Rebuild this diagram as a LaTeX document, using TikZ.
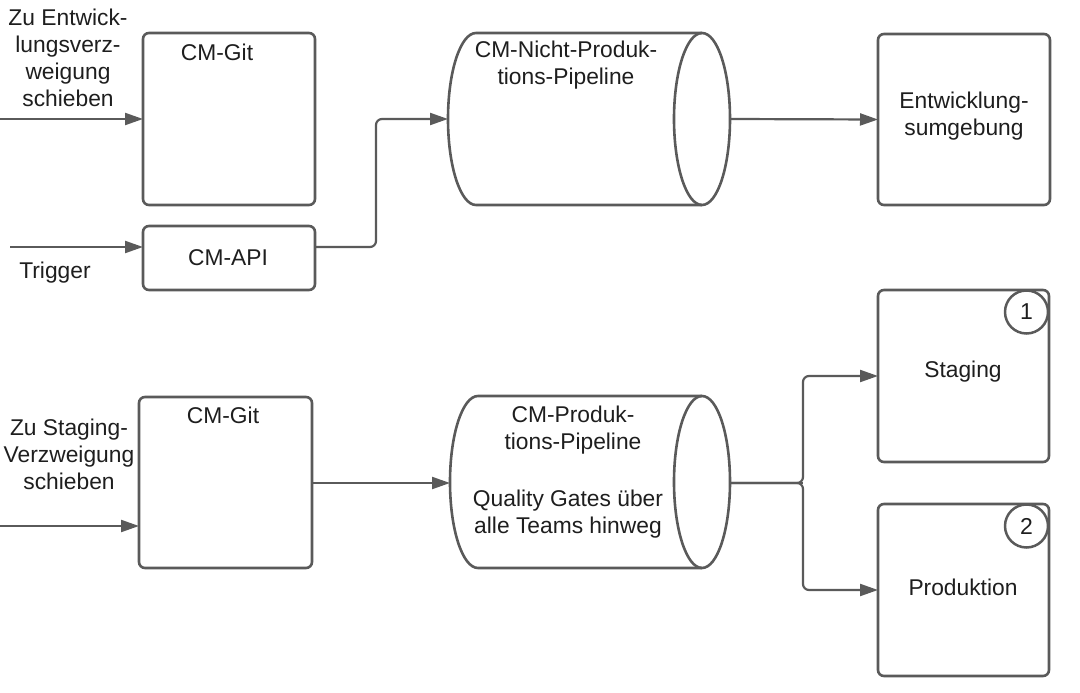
\documentclass[tikz,border=0pt]{standalone}
\usepackage{fontspec}
\setmainfont{Liberation Sans}
\usetikzlibrary{arrows.meta}
\definecolor{ln}{HTML}{5A5A5A}
\definecolor{tx}{HTML}{1E1E1E}
\tikzset{
  box/.style={draw=ln, line width=2.6pt, rounded corners=6pt, minimum width=172pt, minimum height=172pt, inner sep=0pt, outer sep=0pt},
  txt/.style={text=tx, align=center, font=\fontsize{22.8}{27}\selectfont, inner sep=0pt},
  conn/.style={draw=ln, line width=2.2pt, -{Triangle[length=18pt,width=12pt]}, rounded corners=6pt},
  plain/.style={draw=ln, line width=2.2pt, rounded corners=6pt},
  pipe/.style={inner sep=0pt, outer sep=0pt},
  cylline/.style={draw=ln, line width=2.6pt},
  num/.style={draw=ln, line width=2.5pt, circle, minimum size=43pt, inner sep=0pt, text=tx, font=\fontsize{23}{26}\selectfont}
}
\begin{document}
\begin{tikzpicture}[x=1pt,y=-1pt]
\useasboundingbox (0,0) rectangle (1080,693);
% boxes
\node[box] (git1) at (229,119) {};
\node[box, minimum height=64pt] (api) at (229,258) {};
\node[box, minimum height=171pt] (dev) at (964,119.5) {};
\node[box, minimum width=173pt, minimum height=171pt] (git2) at (225.5,482.5) {};
\node[box, minimum width=171pt] (stag) at (963.5,376) {};
\node[box, minimum width=171pt] (prod) at (963.5,590) {};
% cylinders
\node[pipe, minimum width=282pt, minimum height=172pt] (pipe1) at (589,119) {};
\node[pipe, minimum width=280pt, minimum height=172pt] (pipe2) at (590,482) {};
\foreach \p in {pipe1,pipe2}{
  \draw[cylline] ([xshift=28pt]\p.north west) -- ([xshift=-28pt]\p.north east)
     arc[start angle=90, end angle=-90, x radius=28pt, y radius=86pt]
     -- ([xshift=28pt]\p.south west)
     arc[start angle=-90, end angle=-270, x radius=28pt, y radius=86pt] -- cycle;
  \draw[cylline] ([xshift=-28pt]\p.north east)
     arc[start angle=90, end angle=270, x radius=28pt, y radius=86pt];
}
% circles
\node[num] (c1) at (1026.5,312) {1};
\node[num] (c2) at (1026.5,526) {2};
% texts
\node[txt] (tin1) at (68,58) {Zu Entwick-\\lungsverz-\\weigung\\schieben};
\node[txt] (ttrig) at (55,273) {Trigger};
\node[txt] (tgit1) at (217,52) {CM-Git};
\node[txt] (tapi) at (228,258) {CM-API};
\node[txt] (tpipe1) at (566,65) {CM-Nicht-Produk-\\tions-Pipeline};
\node[txt] (tdev) at (964,116) {Entwicklung-\\sumgebung};
\node[txt] (tin2) at (69,454.5) {Zu Staging-\\Verzweigung\\schieben};
\node[txt] (tgit2) at (223,415) {CM-Git};
\node[txt] (tpipe2a) at (573,430.5) {CM-Produk-\\tions-Pipeline};
\node[txt] (tpipe2b) at (568,514) {Quality Gates über\\alle Teams hinweg};
\node[txt] (tstag) at (963,372) {Staging};
\node[txt] (tprod) at (963,587) {Produktion};
% connectors
\coordinate (s1) at (0,119);
\coordinate (s2) at (10,247);
\coordinate (s3) at (0,526);
\coordinate (bend) at (376,247);
\coordinate (j) at (803,483);
\draw[conn] (s1) -- (s1 -| git1.west);
\draw[conn] (s2) -- (s2 -| api.west);
\draw[conn] (s2 -| api.east) -- (bend) |- (pipe1.west);
\draw[conn] (pipe1.east) -- (dev.west);
\draw[conn] (s3) -- (s3 -| git2.west);
\draw[conn] (git2.east |- j) -- (j -| pipe2.west);
\draw[plain] (pipe2.east |- j) -- (j);
\draw[conn] (pipe2.east |- j) -- (j) |- (stag.west);
\draw[conn] (pipe2.east |- j) -- (j) |- (prod.west);
\end{tikzpicture}
\end{document}
